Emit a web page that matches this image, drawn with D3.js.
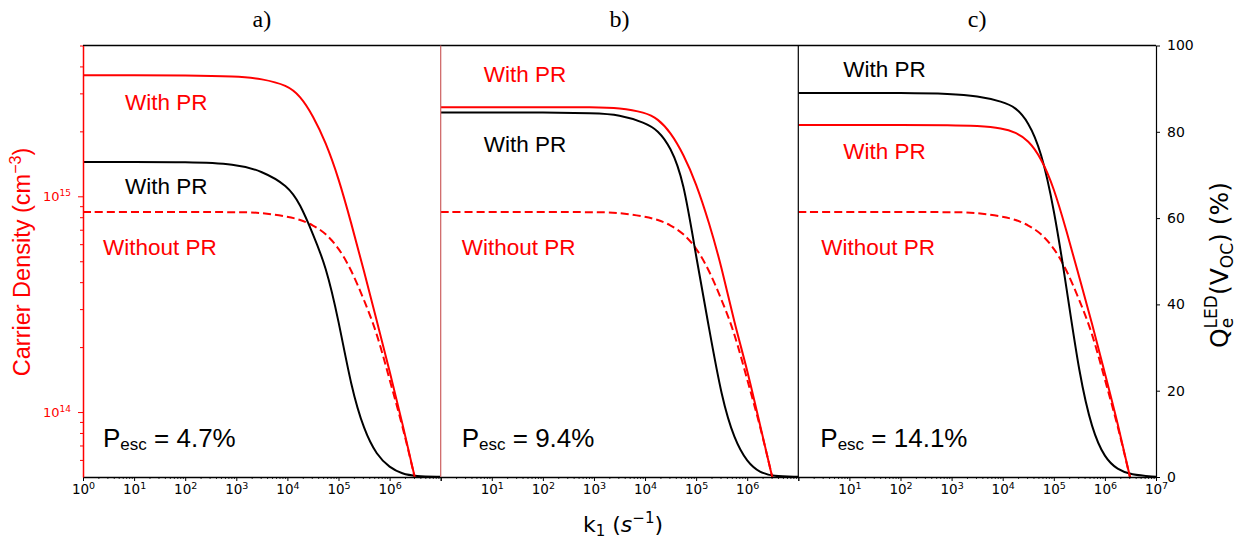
<!DOCTYPE html>
<html>
<head>
<meta charset="utf-8">
<style>
  body { margin: 0; background: white; }
  svg { display: block; font-family: "DejaVu Sans", sans-serif; }
  .note { font-family: "Liberation Sans", Arial, sans-serif; }
  .title { font-family: "Liberation Serif", "Times New Roman", serif; }
</style>
</head>
<body>
<svg width="1245" height="544"></svg>
<script src="https://d3js.org/d3.v7.min.js"></script>
<script>
let logK = [0, 1, 2, 3, 3.5, 4, 4.25, 4.5, 4.75, 5, 5.25, 5.5, 5.75, 6, 6.25, 6.5, 7];

// carrier density (cm^-3), without photon recycling - same in every panel
let densityNoPR = [8.45e14, 8.45e14, 8.45e14, 8.45e14, 8.41e14, 8.05e14, 7.80e14, 7.36e14, 6.73e14, 5.79e14, 4.57e14, 3.31e14, 2.34e14, 1.41e14, 8.7e13, 4.9e13, 1.5e13];
// carrier density with photon recycling
let densityPR_a = [3.64e15, 3.64e15, 3.64e15, 3.60e15, 3.51e15, 3.27e15, 2.92e15, 2.37e15, 1.78e15, 1.22e15, 7.5e14, 4.5e14, 2.64e14, 1.55e14, 8.9e13, 4.9e13, 1.5e13];
let densityPR_b = [2.59e15, 2.59e15, 2.59e15, 2.59e15, 2.57e15, 2.45e15, 2.29e15, 1.98e15, 1.57e15, 1.15e15, 7.6e14, 4.7e14, 2.57e14, 1.58e14, 8.7e13, 4.9e13, 1.5e13];
let densityPR_c = [2.14e15, 2.14e15, 2.14e15, 2.14e15, 2.12e15, 2.07e15, 1.98e15, 1.82e15, 1.51e15, 1.10e15, 6.9e14, 4.2e14, 2.57e14, 1.51e14, 8.9e13, 4.9e13, 1.5e13];
// LED quantum efficiency at Voc (%), with photon recycling
let qled_a = [73.0, 73.0, 73.0, 72.6, 70.9, 67.6, 63.3, 56.3, 49.0, 36.5, 20.7, 10.8, 5.0, 2.2, 0.7, 0.2, 0.05];
let qled_b = [84.5, 84.5, 84.5, 84.3, 84.0, 82.1, 80.4, 76.5, 69.0, 51.0, 34.7, 18.3, 8.6, 3.4, 1.0, 0.2, 0.05];
let qled_c = [89.0, 89.0, 89.0, 88.8, 88.3, 87.0, 85.7, 82.4, 75.7, 62.5, 43.9, 23.6, 10.8, 4.3, 1.7, 0.5, 0.05];

let panelTitles = ["a)", "b)", "c)"];
let pescValues = ["4.7%", "9.4%", "14.1%"];
let densityTicks = [1e14, 1e15];
let qledTicks = [0, 20, 40, 60, 80, 100];
let kTicks = [1, 1e1, 1e2, 1e3, 1e4, 1e5, 1e6, 1e7];

let svg = d3.select("svg");
let plotTop = 45.5, plotBottom = 477;
let panelX = [83, 440.7, 798.3, 1156];

let yDen = d3.scaleLog().domain([5e13, 5e15]).range([plotBottom, plotTop]);
let yQ = d3.scaleLinear().domain([0, 100]).range([plotBottom, plotTop]);

// which k tick labels show in each panel
let labelShown = [
    k => k < 1e7,
    k => k > 1 && k < 1e7,
    k => k > 1
];
// text annotations: [dx from panel left, baseline y]
let notes = [
    { red: [42, 110], black: [42, 194], without: [20, 255], pesc: [20, 447] },
    { red: [43, 82], black: [43, 152], without: [21, 255], pesc: [21, 447] },
    { red: [45, 159], black: [45, 77], without: [23, 255], pesc: [22, 447] }
];

let panels = [
    { pr: densityPR_a, q: qled_a },
    { pr: densityPR_b, q: qled_b },
    { pr: densityPR_c, q: qled_c }
];

let minorK = [];
for (let e = 0; e < 7; e++) for (let m = 2; m < 10; m++) minorK.push(m * 10 ** e);

function powLabels(g, fontSize) {
    g.selectAll(".tick text").each(function (d) {
        let t = d3.select(this);
        let e = Math.round(Math.log10(d));
        t.text(null);
        t.append("tspan").text("10");
        t.append("tspan").attr("dy", "-0.5em").attr("font-size", fontSize).text(e);
    });
}

let defs = svg.append("defs");

panels.forEach((p, i) => {
    let x0 = panelX[i], x1 = panelX[i + 1];
    let x = d3.scaleLog().domain([1, 1e7]).range([x0, x1]);

    defs.append("clipPath").attr("id", "clip" + i)
        .append("rect").attr("x", x0).attr("y", plotTop).attr("width", x1 - x0).attr("height", plotBottom - plotTop);

    let g = svg.append("g").attr("clip-path", `url(#clip${i})`);
    let lineDen = d3.line().x(d => x(10 ** d[0])).y(d => yDen(d[1])).curve(d3.curveBasis);
    let lineQ = d3.line().x(d => x(10 ** d[0])).y(d => yQ(d[1])).curve(d3.curveBasis);
    let pts = arr => logK.map((lk, j) => [lk, arr[j]]);

    g.append("path").attr("d", lineDen(pts(densityNoPR)))
        .attr("fill", "none").attr("stroke", "red").attr("stroke-width", 2).attr("stroke-dasharray", "8,4");
    g.append("path").attr("d", lineQ(pts(p.q)))
        .attr("fill", "none").attr("stroke", "black").attr("stroke-width", 2);
    g.append("path").attr("d", lineDen(pts(p.pr)))
        .attr("fill", "none").attr("stroke", "red").attr("stroke-width", 2);

    // x axis
    let ax = svg.append("g").attr("transform", `translate(0,${plotBottom})`)
        .call(d3.axisBottom(x).tickValues(minorK).tickSize(2).tickFormat("").tickSizeOuter(0));
    ax.select(".domain").remove();
    ax.selectAll("line").attr("stroke-width", 0.8);
    let axM = svg.append("g").attr("transform", `translate(0,${plotBottom})`)
        .call(d3.axisBottom(x).tickValues(kTicks).tickSize(4).tickPadding(3).tickSizeOuter(0));
    axM.select(".domain").attr("stroke-width", 1.5);
    axM.selectAll("text").attr("font-size", 13.5).attr("font-family", "DejaVu Sans");
    axM.selectAll(".tick").filter(d => !labelShown[i](d)).select("text").remove();
    powLabels(axM, 9.5);

    // annotations
    let n = notes[i];
    svg.append("text").attr("class", "note").attr("x", x0 + n.red[0]).attr("y", n.red[1])
        .attr("font-size", 22.5).attr("fill", "red").text("With PR");
    svg.append("text").attr("class", "note").attr("x", x0 + n.black[0]).attr("y", n.black[1])
        .attr("font-size", 22.5).attr("fill", "black").text("With PR");
    svg.append("text").attr("class", "note").attr("x", x0 + n.without[0]).attr("y", n.without[1])
        .attr("font-size", 22.5).attr("fill", "red").text("Without PR");
    let pe = svg.append("text").attr("class", "note").attr("x", x0 + n.pesc[0]).attr("y", n.pesc[1])
        .attr("font-size", 26).attr("fill", "black");
    pe.append("tspan").text("P");
    pe.append("tspan").attr("font-size", 17).attr("dy", 3).text("esc");
    pe.append("tspan").attr("dy", -3).text(" = " + pescValues[i]);

    svg.append("text").attr("class", "title").attr("x", (x0 + x1) / 2).attr("y", 27)
        .attr("text-anchor", "middle").attr("font-size", 24).text(panelTitles[i]);
});

// frame lines
svg.append("line").attr("x1", panelX[0]).attr("x2", panelX[3]).attr("y1", plotTop).attr("y2", plotTop)
    .attr("stroke", "black").attr("stroke-width", 1.5);
svg.append("line").attr("x1", panelX[1]).attr("x2", panelX[1]).attr("y1", plotTop).attr("y2", plotBottom)
    .attr("stroke", "rgb(205,95,95)").attr("stroke-width", 1.2);
svg.append("line").attr("x1", panelX[2]).attr("x2", panelX[2]).attr("y1", plotTop).attr("y2", plotBottom)
    .attr("stroke", "black").attr("stroke-width", 1.2);

// left axis (carrier density)
let minorDen = [6e13, 7e13, 8e13, 9e13];
for (let m = 2; m < 10; m++) minorDen.push(m * 1e14);
for (let m = 2; m < 6; m++) minorDen.push(m * 1e15);
let ayMin = svg.append("g").attr("transform", `translate(${panelX[0]},0)`).attr("color", "red")
    .call(d3.axisLeft(yDen).tickValues(minorDen).tickSize(3).tickFormat("").tickSizeOuter(0));
ayMin.select(".domain").remove();
let ay = svg.append("g").attr("transform", `translate(${panelX[0]},0)`).attr("color", "red")
    .call(d3.axisLeft(yDen).tickValues(densityTicks).tickSize(5).tickPadding(7).tickSizeOuter(0));
ay.select(".domain").attr("stroke-width", 1.5);
ay.selectAll("text").attr("font-size", 13).attr("font-family", "DejaVu Sans");
powLabels(ay, 9);

// right axis (QLED)
let ar = svg.append("g").attr("transform", `translate(${panelX[3]},0)`)
    .call(d3.axisRight(yQ).tickValues(qledTicks).tickSize(4).tickPadding(7).tickSizeOuter(0));
ar.select(".domain").attr("stroke-width", 1.2);
ar.selectAll("text").attr("font-size", 14).attr("font-family", "DejaVu Sans");

// axis titles
let yl = svg.append("text").attr("class", "note").attr("transform", "translate(30,262) rotate(-90)")
    .attr("text-anchor", "middle").attr("font-size", 23.5).attr("fill", "red");
yl.append("tspan").text("Carrier Density (cm");
yl.append("tspan").attr("font-size", 16).attr("dy", -9).text("\u22123");
yl.append("tspan").attr("dy", 9).text(")");

let yr = svg.append("text").attr("transform", "translate(1228,265) rotate(-90)")
    .attr("text-anchor", "middle").attr("font-size", 25).attr("fill", "black");
yr.append("tspan").text("Q");
yr.append("tspan").attr("font-size", 17).attr("dy", 5).text("e");
yr.append("tspan").attr("font-size", 17).attr("dx", -10.5).attr("dy", -16).text("LED");
yr.append("tspan").attr("dy", 11).text("(V");
yr.append("tspan").attr("font-size", 17).attr("dy", 5).text("OC");
yr.append("tspan").attr("dy", -5).text(")  (%)");

let xl = svg.append("text").attr("x", 623).attr("y", 532).attr("text-anchor", "middle")
    .attr("font-size", 22).attr("fill", "black");
xl.append("tspan").text("k");
xl.append("tspan").attr("font-size", 15).attr("dy", 4).text("1");
xl.append("tspan").attr("dy", -4).text(" (");
xl.append("tspan").attr("font-style", "italic").text("s");
xl.append("tspan").attr("font-size", 15).attr("dy", -9).text("\u22121");
xl.append("tspan").attr("dy", 9).text(")");
</script>
</body>
</html>
